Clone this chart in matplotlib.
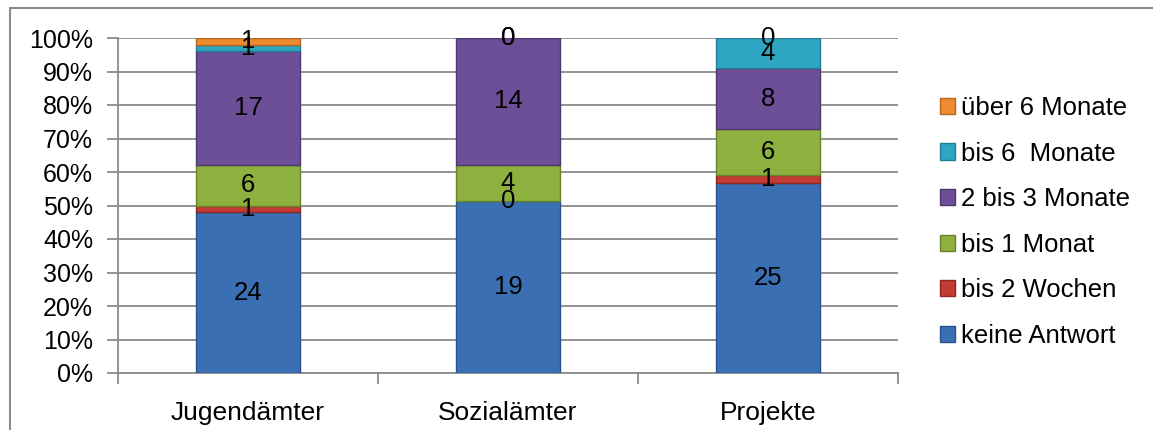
import matplotlib.pyplot as plt
import matplotlib.ticker as ticker
from matplotlib.patches import Rectangle
import numpy as np

plt.rcParams['font.family'] = ['Liberation Sans', 'DejaVu Sans']

# Data
categories = ['Jugendämter', 'Sozialämter', 'Projekte']
series = ['keine Antwort', 'bis 2 Wochen', 'bis 1 Monat', '2 bis 3 Monate', 'bis 6  Monate', 'über 6 Monate']
counts = [
    [24, 19, 25],   # keine Antwort
    [1, 0, 1],      # bis 2 Wochen
    [6, 4, 6],      # bis 1 Monat
    [17, 14, 8],    # 2 bis 3 Monate
    [1, 0, 4],      # bis 6 Monate
    [1, 0, 0],      # über 6 Monate
]
colors = ['#3b6fb4', '#c23b34', '#8db03f', '#6c4f96', '#2ea6c2', '#ee8a30']
edges = ['#2a5288', '#8e2722', '#67842a', '#4e3870', '#1f7c92', '#b8661f']

counts = np.array(counts, dtype=float)
totals = counts.sum(axis=0)
shares = counts / totals * 100

fig = plt.figure(figsize=(11.53, 4.30), dpi=100)
ax = fig.add_axes([118 / 1153, 57 / 430, 780 / 1153, 335 / 430])

x = np.arange(len(categories))
bottom = np.zeros(len(categories))
handles = []
for i, name in enumerate(series):
    lw = [1 if c > 0 else 0 for c in counts[i]]
    b = ax.bar(x, shares[i], width=0.4, bottom=bottom, color=colors[i],
               edgecolor=edges[i], linewidth=lw, label=name, zorder=3)
    handles.append(b)
    for j in range(len(categories)):
        ax.text(x[j], bottom[j] + shares[i][j] / 2, f'{int(counts[i][j])}',
                ha='center', va='center', fontsize=18.5, color='black', zorder=5)
    bottom += shares[i]

ax.set_xlim(-0.5, len(categories) - 0.5)
ax.set_ylim(0, 100)
ax.yaxis.set_major_locator(ticker.MultipleLocator(10))
ax.yaxis.set_major_formatter(ticker.FuncFormatter(lambda v, p: f'{int(v)}%'))
ax.grid(axis='y', color='#8a8a8a', linewidth=1.3, zorder=0)
ax.set_axisbelow(True)

ax.set_xticks(x)
ax.set_xticklabels(categories)
ax.set_xticks(np.arange(-0.5, len(categories)), minor=True)
ax.tick_params(axis='x', which='major', length=0, pad=20, labelsize=19)
ax.tick_params(axis='x', which='minor', length=8, width=1.3, color='#8a8a8a', direction='out')
ax.tick_params(axis='y', length=8, width=1.3, color='#8a8a8a', direction='out', pad=10, labelsize=18)

for s in ['top', 'right']:
    ax.spines[s].set_visible(False)
for s in ['left', 'bottom']:
    ax.spines[s].set_color('#8a8a8a')
    ax.spines[s].set_linewidth(1.3)

leg = fig.legend(handles[::-1], series[::-1], loc='center left',
                 bbox_to_anchor=(940 / 1153, 1 - 222 / 430), frameon=False,
                 fontsize=18.5, handlelength=0.6, handleheight=0.6,
                 handletextpad=0.2, labelspacing=0.84, borderpad=0,
                 borderaxespad=0)

# outer chart frame
fig.patches.append(Rectangle((10 / 1153, -0.1), 1.2, 0.1 + (430 - 8) / 430,
                             transform=fig.transFigure, fill=False,
                             edgecolor='#8c8c8c', linewidth=1.5))

fig.savefig('out.png', dpi=100)
